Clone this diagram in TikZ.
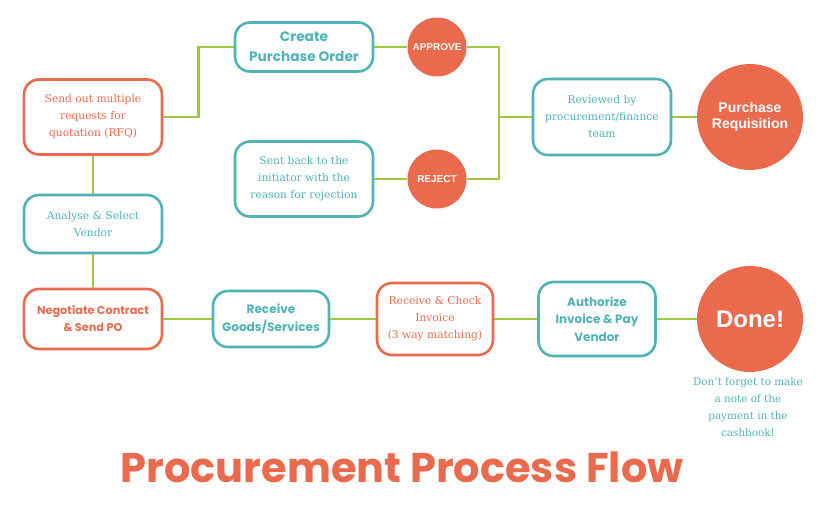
\documentclass[tikz,border=0pt]{standalone}
\usepackage{fontspec}
\setmainfont{DejaVu Serif}
\newfontfamily\headfont{Poppins}
\newfontfamily\discfont{Liberation Sans}
\definecolor{coral}{HTML}{EA6A4E}
\definecolor{teal}{HTML}{4FB3B8}
\definecolor{leaf}{HTML}{9FC842}
\newcommand{\fs}[2]{\fontsize{#1}{#2}\selectfont}

\begin{document}
\begin{tikzpicture}[x=1pt,y=-1pt,
    box/.style={rounded corners=15pt, line width=2.6pt, align=center,
      minimum width=138, inner sep=0pt},
    tealbox/.style={box, draw=teal, text=teal},
    coralbox/.style={box, draw=coral, text=coral},
    serif/.style={font=\fs{10.7}{17}},
    bold/.style={font=\headfont\bfseries\fs{12}{17.5}},
    disc/.style={circle, fill=coral, text=white, inner sep=0pt,
      align=center, font=\discfont\bfseries},
    link/.style={draw=leaf, line width=2.4pt}]
\useasboundingbox (0,0) rectangle (832,508);
% ------ top branch -----------
\node[coralbox, serif, minimum height=75] (rfq) at (93,117)
    {Send out multiple\\requests for\\quotation (RFQ)};
\node[tealbox, font=\headfont\bfseries\fs{13.7}{20}, minimum height=49] (order) at (304,47)
    {Create\\Purchase Order};
\node[tealbox, serif, minimum height=75] (sentback) at (304,179)
    {Sent back to the\\initiator with the\\reason for rejection};
\node[disc, minimum size=59, font=\discfont\bfseries\fs{10}{11}] (approve) at (437,47) {APPROVE};
\node[disc, minimum size=59, font=\discfont\bfseries\fs{10}{11}] (reject) at (437,179) {REJECT};
\coordinate (bus) at (499,117);
\node[tealbox, serif, minimum height=76] (review) at (602,117)
    {Reviewed by\\procurement/finance\\team};
\node[disc, minimum size=106, font=\discfont\bfseries\fs{14}{16}] (purreq) at (750,117)
    {Purchase\\Requisition};
% ------ left column -----------
\node[tealbox, serif, minimum height=58] (analyse) at (93,224)
    {Analyse \& Select\\Vendor};
% ------ bottom row -----------
\node[coralbox, font=\headfont\bfseries\fs{11.3}{17}, minimum height=60] (negotiate) at (93,319)
    {Negotiate Contract\\\& Send PO};
\node[tealbox, font=\headfont\bfseries\fs{12.1}{18}, minimum width=116, minimum height=56] (goods) at (271,319)
    {Receive\\Goods/Services};
\node[coralbox, serif, minimum width=116, minimum height=72] (check) at (435,319)
    {Receive \& Check\\Invoice\\(3 way matching)};
\node[tealbox, bold, minimum width=117, minimum height=74] (authorize) at (597,319)
    {Authorize\\Invoice \& Pay\\Vendor};
\node[disc, minimum size=106, font=\discfont\bfseries\fs{24}{28}] (done) at (750,319) {Done!};
\node[text=teal, align=center, font=\fs{10.4}{17}, anchor=north] (note) at (748,374)
    {Don't forget to make\\a note of the\\payment in the\\cashbook!};
% ------ connectors -----------
\draw[link] (rfq.east) -- ++(35,0) |- (order.west);
\draw[link] (order.east) -- (approve.west);
\draw[link] (sentback.east) -- (reject.west);
\draw[link] (approve.east) -| (bus) |- (reject.east);
\draw[link] (bus) -- (review.west);
\draw[link] (review.east) -- (purreq.west);
\draw[link] (rfq.south) -- (analyse.north);
\draw[link] (analyse.south) -- (negotiate.north);
\draw[link] (negotiate.east) -- (goods.west);
\draw[link] (goods.east) -- (check.west);
\draw[link] (check.east) -- (authorize.west);
\draw[link] (authorize.east) -- (done.west);
% ------ title -----------
\node[text=coral, font=\headfont\bfseries\fs{41.5}{46}, anchor=base] (title) at (402,482)
    {Procurement Process Flow};
\end{tikzpicture}
\end{document}
